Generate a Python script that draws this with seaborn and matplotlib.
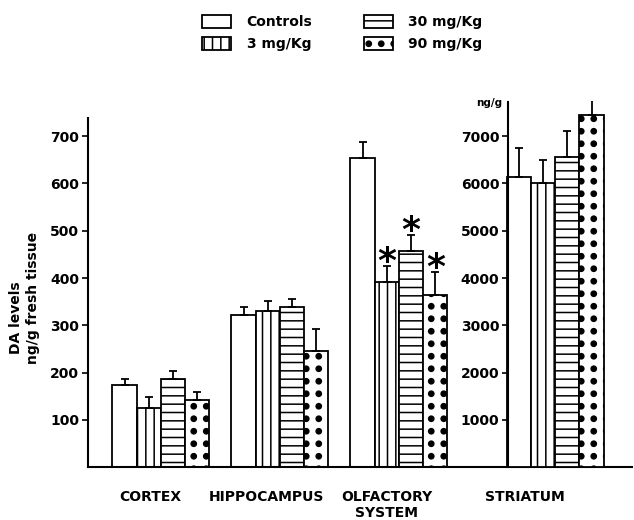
import numpy as np
import pandas as pd
import seaborn as sns
import matplotlib
matplotlib.use("Agg")
import matplotlib.pyplot as plt
import matplotlib.hatch as mhatch
from matplotlib.path import Path
from matplotlib.patches import Patch

# DA levels (ng/g fresh tissue), bar heights and upper SEM
regions = ["CORTEX", "HIPPOCAMPUS", "OLFACTORY\nSYSTEM"]
doses = ["Controls", "3 mg/Kg", "30 mg/Kg", "90 mg/Kg"]
hatches = ["", "||", "--", "O"]

cortex = [173, 125, 187, 143]
cortex_err = [13, 23, 17, 17]
hippocampus = [322, 331, 339, 246]
hippocampus_err = [17, 21, 16, 46]
olfactory = [653, 391, 456, 365]
olfactory_err = [35, 34, 34, 48]

striatum = [6130, 6000, 6550, 7440]
striatum_err = [610, 490, 560, 470]

# significant vs controls
starred = ["3 mg/Kg", "30 mg/Kg", "90 mg/Kg"]

left_ticks = [100, 200, 300, 400, 500, 600, 700]
right_ticks = [1000, 2000, 3000, 4000, 5000, 6000, 7000]


# filled dots on a square grid (matplotlib's 'O' is hollow and staggered)
class BigDots(mhatch.HatchPatternBase):
    def __init__(self, hatch, density):
        self.n = hatch.count("O") * 8
        self.circle = Path.unit_circle()
        self.num_vertices = self.n * self.n * len(self.circle.vertices)

    def set_vertices_and_codes(self, vertices, codes):
        k = len(self.circle.vertices)
        i = 0
        for row in range(self.n):
            for col in range(self.n):
                c = [(col + 0.5) / self.n, (row + 0.5) / self.n]
                vertices[i:i + k] = self.circle.vertices * 0.026 + c
                codes[i:i + k] = self.circle.codes
                i += k


mhatch._hatch_types = [BigDots if t is mhatch.LargeCircles else t
                       for t in mhatch._hatch_types]

sns.set_style("ticks")
plt.rcParams["font.family"] = ["DejaVu Sans"]
plt.rcParams["font.weight"] = "bold"
plt.rcParams["hatch.linewidth"] = 1.1
for k in ["text.color", "axes.labelcolor", "xtick.color", "ytick.color",
          "axes.edgecolor"]:
    plt.rcParams[k] = "black"

df = pd.DataFrame({
    "region": np.repeat(regions, len(doses)),
    "dose": doses * len(regions),
    "value": cortex + hippocampus + olfactory,
    "err": cortex_err + hippocampus_err + olfactory_err,
})
df_str = pd.DataFrame({"region": ["STRIATUM"] * len(doses), "dose": doses,
                       "value": striatum, "err": striatum_err})

fig = plt.figure(figsize=(6.34, 5.2), dpi=100)
ax = fig.add_axes([0.1383, 0.1013, 0.8585, 0.7054])
ax2 = fig.add_axes(ax.get_position(), facecolor="none")

pal = {d: "white" for d in doses}
common = dict(x="region", y="value", hue="dose", hue_order=doses, palette=pal,
              width=0.815, edgecolor="black", linewidth=1.3, saturation=1,
              errorbar=None, legend=False)
sns.barplot(data=df, order=regions, ax=ax, **common)
sns.barplot(data=df_str, ax=ax2, **common)


def finish_bars(axis, data):
    for dose, hatch, cont in zip(doses, hatches, axis.containers):
        sub = data[data["dose"] == dose]
        names = list(sub["region"])
        xs, ys = [], []
        for bar in cont:
            bar.set_hatch(hatch)
            xs.append(bar.get_x() + bar.get_width() / 2)
            ys.append(bar.get_height())
        errs = sub["err"].to_numpy()
        axis.errorbar(xs, ys, yerr=[np.zeros(len(errs)), errs], fmt="none",
                      ecolor="black", elinewidth=1.3, capsize=3, capthick=1.3)
        if dose in starred and "OLFACTORY\nSYSTEM" in names:
            i = names.index("OLFACTORY\nSYSTEM")
            axis.annotate("*", (xs[i], ys[i] + errs[i]), xytext=(0, 3),
                          textcoords="offset points", ha="center",
                          va="center", fontsize=26, fontweight="bold")


finish_bars(ax, df)
finish_bars(ax2, df_str)

# striatum group sits at this position on the main category axis
stri_pos = 3.313
ax.set_xlim(-0.616, 3.958)
ax2.set_xlim(-0.616 - stri_pos, 3.958 - stri_pos)
ax.set_ylim(0, 775)
ax2.set_ylim(0, 7750)

for s in ["top", "right"]:
    ax.spines[s].set_visible(False)
for s in ["top", "right", "bottom"]:
    ax2.spines[s].set_visible(False)
for a in (ax, ax2):
    for s in a.spines.values():
        s.set_linewidth(1.5)
ax.spines["left"].set_bounds(0, 738)
ax2.spines["left"].set_position(("data", -0.40))
ax2.spines["left"].set_bounds(0, 7720)

ax.set_yticks(left_ticks)
ax2.set_yticks(right_ticks)
ax.tick_params(axis="y", length=4, width=1.2, pad=2, labelsize=10)
ax2.tick_params(axis="y", length=4, width=1.2, pad=2, labelsize=10)
ax2.set_xticks([])

ax.set_xticks([-0.09, 0.887, 1.895, stri_pos - 0.255],
              labels=["CORTEX", "HIPPOCAMPUS", "OLFACTORY\nSYSTEM", "STRIATUM"])
ax.tick_params(axis="x", length=0, pad=16, labelsize=10)
plt.setp(ax.get_xticklabels(), linespacing=1.25)
for a in (ax, ax2):
    a.set_xlabel("")
    a.set_ylabel("")

ax2.annotate("ng/g", (-0.40, 7720), xytext=(-4, -1), textcoords="offset points",
             ha="right", va="center", fontsize=7.5, fontweight="bold")

fig.text(0.026, 0.39, "DA levels", rotation=90, ha="center", va="center",
         fontsize=10, fontweight="bold")
fig.text(0.052, 0.427, "ng/g fresh tissue", rotation=90, ha="center",
         va="center", fontsize=10, fontweight="bold")

handles = [Patch(facecolor="white", edgecolor="black", hatch=h, linewidth=1.3,
                 label=d) for d, h in zip(doses, hatches)]
fig.legend(handles=handles, ncol=2, loc="upper center",
           bbox_to_anchor=(0.54, 0.995), frameon=False,
           prop=dict(weight="bold", size=10), handlelength=2.1,
           handleheight=1.0, handletextpad=1.1, columnspacing=3.7,
           labelspacing=0.6)

fig.savefig("out.png", dpi=100)
